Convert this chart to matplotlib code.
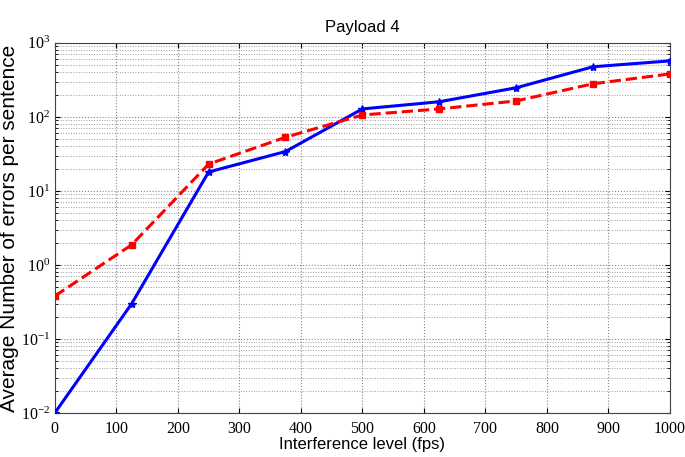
import matplotlib
matplotlib.use("Agg")
import matplotlib.pyplot as plt
from matplotlib.ticker import LogLocator, NullFormatter

x = [0, 125, 250, 375, 500, 625, 750, 875, 1000]
blue = [0.01, 0.3, 18, 34, 128, 160, 247, 475, 570]
red = [0.38, 1.87, 23, 53, 106, 128, 164, 280, 380]
xticks = [0, 100, 200, 300, 400, 500, 600, 700, 800, 900, 1000]

fig = plt.figure(figsize=(6.85, 4.57), dpi=100)
ax = fig.add_axes([0.080, 0.0963, 0.898, 0.81])

ax.plot(x, blue, color='#0000ff', lw=2.2, marker='*', ms=6, zorder=3)
ax.plot(x, red, color='#ff0000', lw=2.2, ls='--', marker='s', ms=5,
        mfc='#ff0000', mec='#ff0000', zorder=3)

ax.set_yscale('log')
ax.set_xlim(0, 1000)
ax.set_ylim(1e-2, 1e3)
ax.set_xticks(xticks)
ax.yaxis.set_major_locator(LogLocator(base=10, numticks=10))
ax.yaxis.set_minor_locator(LogLocator(base=10, subs=range(2, 10), numticks=20))
ax.yaxis.set_minor_formatter(NullFormatter())

ax.grid(True, which='major', ls=':', color='#888888', lw=0.8)
ax.grid(True, which='minor', axis='y', ls=':', color='#999999', lw=0.7)

ax.tick_params(direction='in', which='both', top=True, right=True, labelsize=11.5)
ax.tick_params(axis='x', pad=6)
for lab in ax.get_xticklabels() + ax.get_yticklabels():
    lab.set_family('Liberation Serif')
for s in ax.spines.values():
    s.set_color('#444444')

ax.set_title('Payload 4', family='Liberation Sans', fontsize=12, pad=8)
ax.set_xlabel('Interference level (fps)', family='Liberation Sans', fontsize=12, labelpad=0)
ax.set_ylabel('Average Number of errors per sentence', family='Liberation Sans', fontsize=15, labelpad=1)

fig.savefig('out.png', dpi=100)
